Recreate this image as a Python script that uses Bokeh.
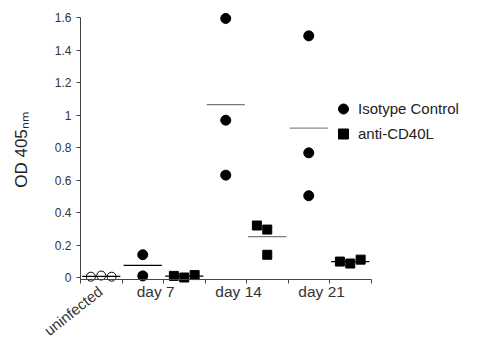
import numpy as np
from bokeh.plotting import figure
from bokeh.models import (Range1d, FixedTicker, PrintfTickFormatter, Label,
                          Legend, LegendItem, LinearAxis)
from bokeh.embed import file_html
from bokeh.resources import INLINE

# ---- data ----
groups = ["uninfected", "day 7", "day 14", "day 21"]
uninfected = [0.005, 0.012, 0.005]
iso_day7 = [0.14, 0.01]
iso_day14 = [1.594, 0.968, 0.63]
iso_day21 = [1.487, 0.767, 0.503]
anti_day7 = [0.01, 0.0, 0.015]
anti_day14 = [0.32, 0.295, 0.14]
anti_day21 = [0.098, 0.086, 0.11]
y_ticks = [0, 0.2, 0.4, 0.6, 0.8, 1.0, 1.2, 1.4, 1.6]

# horizontal spread of points inside a slot (slot units)
spread3 = [-0.25, 0.0, 0.25]
spread_d14 = [-0.25, 0.0, 0.0]
HALF = 0.46          # half-width of mean bars
LABEL_SHIFT = -0.19  # group labels sit slightly left of the group boundary tick

# slot centres: uninfected, iso d7, anti d7, iso d14, anti d14, iso d21, anti d21
centres = [0.5, 1.5, 2.5, 3.5, 4.5, 5.5, 6.5]

un_x = [centres[0] + o for o in spread3]
iso_x = [centres[1]] * len(iso_day7) + [centres[3]] * len(iso_day14) + [centres[5]] * len(iso_day21)
iso_y = iso_day7 + iso_day14 + iso_day21
anti_x = ([centres[2] + o for o in spread3] + [centres[4] + o for o in spread_d14]
          + [centres[6] + o for o in spread3])
anti_y = anti_day7 + anti_day14 + anti_day21

slot_vals = [uninfected, iso_day7, anti_day7, iso_day14, anti_day14, iso_day21, anti_day21]
means = [float(np.mean(v)) for v in slot_vals]
mean_colors = ["black", "black", "black", "#7a7a7a", "#7a7a7a", "#8a8a8a", "black"]

FONT = "Liberation Sans"
TXT = "#333333"
AX = "#444444"

# ---- geometry (whole canvas is the frame; axes are pinned inside it) ----
W, H = 488, 339
X0_PX, Y0_PX = 80, 277        # pixel position of data origin
PX_X, PX_Y = 41.5, 162.5      # pixels per data unit
x_range = Range1d(-X0_PX / PX_X, (W - X0_PX) / PX_X)
y_range = Range1d(-(H - Y0_PX) / PX_Y, Y0_PX / PX_Y)
X_AXIS_Y = -0.0123

p = figure(width=W, height=H, x_range=x_range, y_range=y_range,
           output_backend="svg", toolbar_location=None,
           min_border_left=0, min_border_right=0, min_border_top=0, min_border_bottom=0)
p.outline_line_color = None
p.xgrid.visible = False
p.ygrid.visible = False
p.background_fill_color = "white"

# mean bars
p.segment(x0=[c - HALF for c in centres], x1=[c + HALF for c in centres],
          y0=means, y1=means, line_color=mean_colors, line_width=1.3)

r_un = p.scatter(un_x, uninfected, marker="circle", size=9, fill_color="white",
                 fill_alpha=0.0, line_color="black", line_width=1)
r_iso = p.scatter(iso_x, iso_y, marker="circle", size=10, fill_color="black", line_color="black")
r_anti = p.scatter(anti_x, anti_y, marker="square", size=9, fill_color="black", line_color="black")

# y axis
p.yaxis.fixed_location = 0
p.yaxis.bounds = (-0.03, 1.6)
p.yaxis.ticker = FixedTicker(ticks=y_ticks)
p.yaxis.formatter = PrintfTickFormatter(format="%g")
p.yaxis.minor_tick_line_color = None
p.yaxis.major_tick_in = 0
p.yaxis.major_tick_out = 4
p.yaxis.major_label_text_font = FONT
p.yaxis.major_label_text_font_size = "12px"
p.yaxis.major_label_text_color = TXT
p.yaxis.major_label_standoff = 5
p.yaxis.axis_line_color = AX
p.yaxis.major_tick_line_color = AX
p.yaxis.axis_label = "OD 405\u2099\u2098"
p.yaxis.axis_label_text_font = FONT
p.yaxis.axis_label_text_font_size = "17px"
p.yaxis.axis_label_text_font_style = "normal"
p.yaxis.axis_label_text_color = "#222222"
p.yaxis.axis_label_standoff = 21

# x axis: line + boundary ticks
x_ticks = list(range(8))
p.xaxis.fixed_location = X_AXIS_Y
p.xaxis.bounds = (0, 7)
p.xaxis.ticker = FixedTicker(ticks=x_ticks)
p.xaxis.major_label_overrides = {t: "" for t in x_ticks}
p.xaxis.minor_tick_line_color = None
p.xaxis.major_tick_in = 0
p.xaxis.major_tick_out = 4
p.xaxis.axis_line_color = AX
p.xaxis.major_tick_line_color = AX

# x axis: group labels
lab_ticks = [round(2 * (i + 1) + LABEL_SHIFT, 3) for i in range(len(groups) - 1)]
lab_axis = LinearAxis(fixed_location=X_AXIS_Y, ticker=FixedTicker(ticks=lab_ticks),
                      major_label_overrides={t: g for t, g in zip(lab_ticks, groups[1:])},
                      axis_line_color=None, major_tick_line_color=None,
                      minor_tick_line_color=None, major_tick_in=0, major_tick_out=4,
                      major_label_standoff=0, major_label_text_font=FONT,
                      major_label_text_font_size="15.5px", major_label_text_color=TXT)
p.add_layout(lab_axis, "below")

p.add_layout(Label(x=centres[0] - 0.02, y=-0.072, text=groups[0], angle=0.67,
                   text_align="right", text_baseline="middle", text_font=FONT,
                   text_font_size="15px", text_color=TXT))

legend = Legend(items=[LegendItem(label="Isotype Control", renderers=[r_iso]),
                       LegendItem(label="anti-CD40L", renderers=[r_anti])],
                location=(328, 193.5), orientation="vertical",
                glyph_width=30, glyph_height=25, label_standoff=0, spacing=0,
                padding=0, margin=0, border_line_color=None, background_fill_alpha=0,
                label_text_font=FONT, label_text_font_size="15px", label_text_color="#222222")
p.add_layout(legend, "center")

open("out.html", "w").write(file_html(p, INLINE))
